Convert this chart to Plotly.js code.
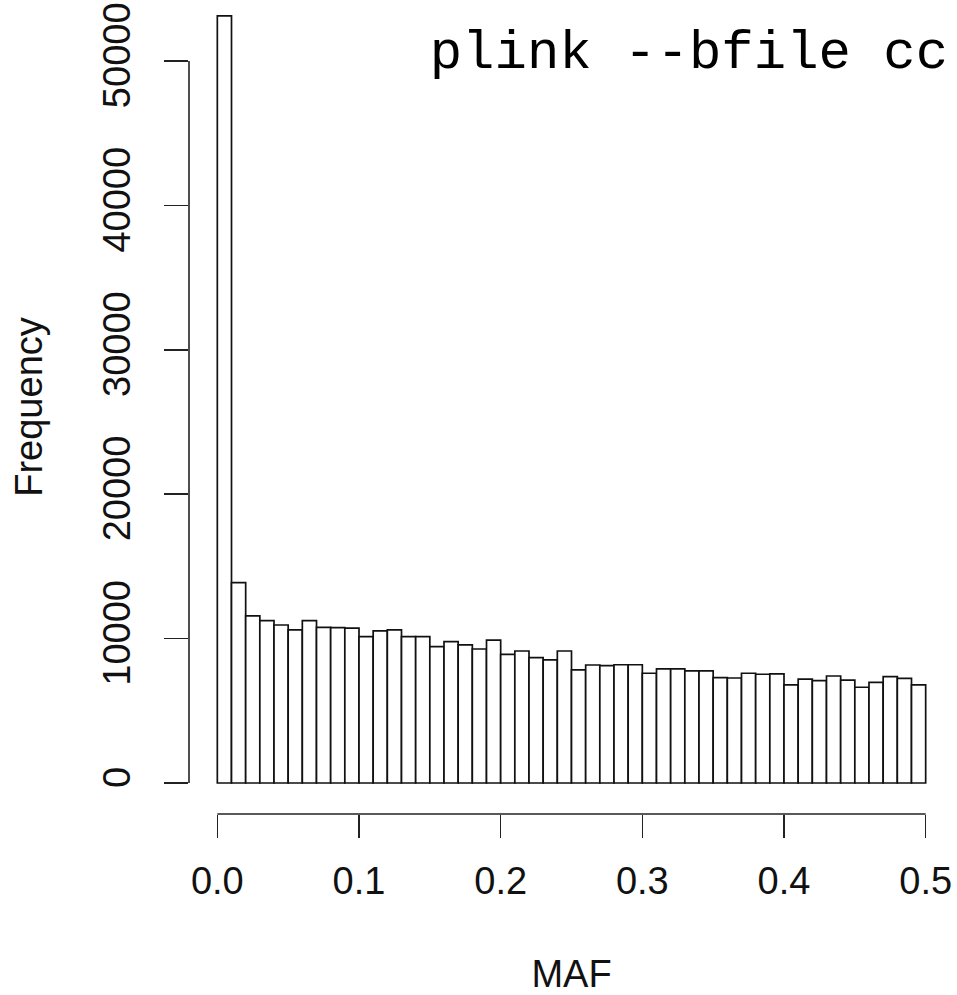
<!DOCTYPE html>
<html><head><meta charset="utf-8">
<script src="https://cdn.plot.ly/plotly-3.0.1.min.js"></script>
<style>html,body{margin:0;padding:0;background:#fff;}</style>
</head><body>
<div id="chart" style="width:957px;height:995px;"></div>
<script>
// MAF histogram: 50 bins of width 0.01 from 0 to 0.5
const binWidth = 0.01;
const counts = [53130, 13870, 11570, 11240, 10940, 10600, 11240, 10780, 10760, 10730,
                10130, 10530, 10600, 10130, 10130, 9440, 9790, 9560, 9280, 9900,
                8910, 9140, 8680, 8520, 9140, 7830, 8170, 8130, 8190, 8190,
                7600, 7900, 7900, 7760, 7760, 7300, 7270, 7600, 7530, 7550,
                6790, 7200, 7090, 7410, 7130, 6630, 6970, 7360, 7250, 6790];
const xTicks = [0, 0.1, 0.2, 0.3, 0.4, 0.5];
const xTickText = ['0.0', '0.1', '0.2', '0.3', '0.4', '0.5'];
const yTicks = [0, 10000, 20000, 30000, 40000, 50000];
const yTickText = ['0', '10000', '20000', '30000', '40000', '50000'];
const titleText = 'plink --bfile cc';
const xTitle = 'MAF';
const yTitle = 'Frequency';

const binLeft = counts.map((_, i) => +(i * binWidth).toFixed(2));

const sans = 'Liberation Sans, Arial, Helvetica, sans-serif';
const ink = '#111';
const axisCol = '#222';

const trace = {
  type: 'bar',
  x: binLeft,
  y: counts,
  width: binWidth,
  offset: 0,
  marker: {color: '#ffffff', line: {color: ink, width: 1.7}},
  hoverinfo: 'x+y'
};

const layout = {
  width: 957, height: 995,
  margin: {l: 189, r: 3, t: 0, b: 181},
  paper_bgcolor: '#fff', plot_bgcolor: '#fff',
  showlegend: false,
  bargap: 0,
  title: {
    text: titleText,
    xref: 'container', yref: 'container',
    x: 0.449, xanchor: 'left',
    y: 0.9507, yanchor: 'middle',
    font: {family: 'Liberation Mono, Courier New, Courier, monospace', size: 54, color: '#000'}
  },
  xaxis: {
    range: [-0.02, 0.52],
    tickmode: 'array', tickvals: xTicks, ticktext: xTickText,
    ticks: 'outside', ticklen: 23, tickwidth: 1.6, tickcolor: axisCol,
    ticklabelstandoff: 10,
    showline: false, showgrid: false, zeroline: false,
    tickfont: {family: sans, size: 38, color: ink},
    title: {text: xTitle, font: {family: sans, size: 38, color: ink}, standoff: 59}
  },
  yaxis: {
    range: [-2147, 54224],
    tickmode: 'array', tickvals: yTicks, ticktext: yTickText,
    ticks: 'outside', ticklen: 24, tickwidth: 1.6, tickcolor: axisCol,
    tickangle: -90,
    ticklabelstandoff: 19,
    showline: false, showgrid: false, zeroline: false,
    tickfont: {family: sans, size: 38, color: ink},
    title: {text: yTitle, font: {family: sans, size: 38, color: ink}, standoff: 41}
  },
  shapes: [
    {type: 'line', xref: 'x', yref: 'paper',
     x0: xTicks[0], x1: xTicks[xTicks.length - 1], y0: 0, y1: 0,
     line: {color: axisCol, width: 1.6}},
    {type: 'line', xref: 'paper', yref: 'y',
     x0: 0, x1: 0, y0: yTicks[0], y1: yTicks[yTicks.length - 1],
     line: {color: axisCol, width: 1.6}}
  ]
};

Plotly.newPlot('chart', [trace], layout, {displayModeBar: false, staticPlot: true});
</script>
</body></html>
